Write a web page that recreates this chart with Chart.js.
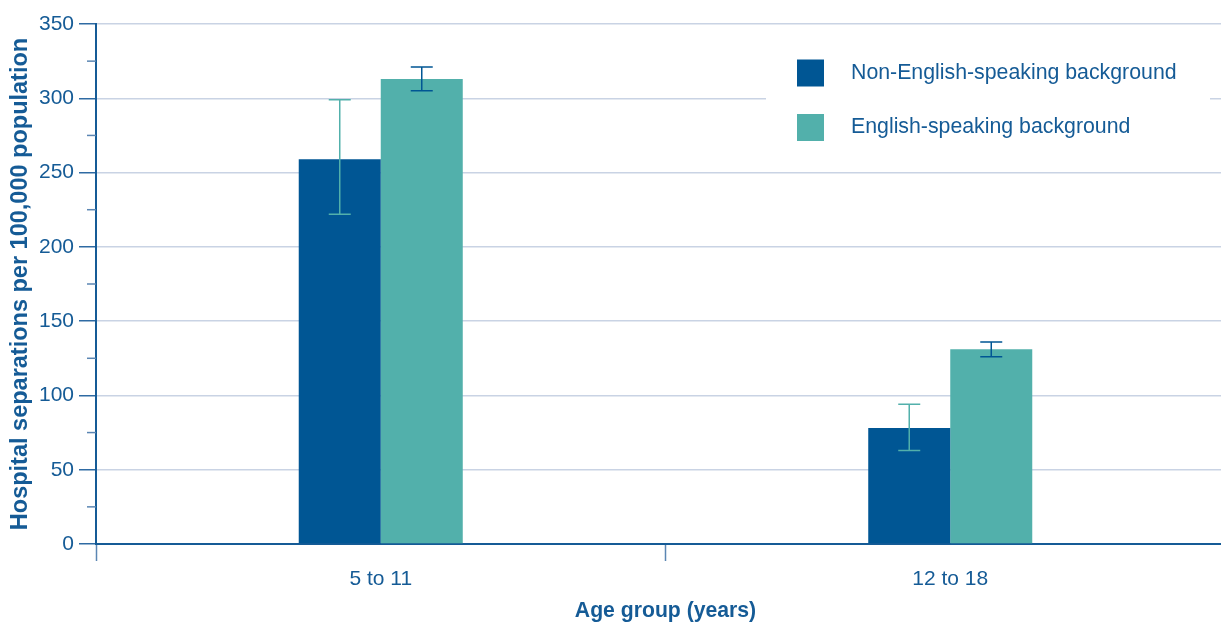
<!DOCTYPE html>
<html lang="en">
<head>
    <meta charset="UTF-8">
    <title>Hospital separations by age group</title>
    <script src="https://cdn.jsdelivr.net/npm/chart.js"></script>
    <style>
        html, body { margin: 0; padding: 0; background: #fff; overflow: hidden; }
        /* the plot runs a little past the right edge of the frame, as in the original */
        #wrap { width: 1221px; height: 624px; overflow: hidden; }
    </style>
</head>
<body>
    <div id="wrap"><canvas id="chart" width="1235" height="624"></canvas></div>

    <script>
        // data
        const ageGroups = ["5 to 11", "12 to 18"];
        const seriesNames = ["Non-English-speaking background", "English-speaking background"];
        const nesbRates = [259, 78];
        const esbRates = [313, 131];
        const nesbLow = [222, 63];
        const nesbHigh = [299, 94];
        const esbLow = [305, 126];
        const esbHigh = [321, 136];
        const yTicks = [0, 50, 100, 150, 200, 250, 300, 350];
        const yMinorTicks = [25, 75, 125, 175, 225, 275, 325];

        const textBlue = "#155b96";
        const darkBlue = "#005694";
        const teal = "#52b0ab";
        const font = "'Liberation Sans', Arial, sans-serif";

        // error bars, drawn in the opposite series colour
        const errorBars = {
            id: "errorBars",
            afterDatasetsDraw(chart) {
                const ctx = chart.ctx;
                const y = chart.scales.y;
                const sets = [[nesbLow, nesbHigh, teal], [esbLow, esbHigh, darkBlue]];
                sets.forEach(function (s, di) {
                    const meta = chart.getDatasetMeta(di);
                    meta.data.forEach(function (bar, i) {
                        const top = y.getPixelForValue(s[1][i]);
                        const bot = y.getPixelForValue(s[0][i]);
                        ctx.save();
                        ctx.strokeStyle = s[2];
                        ctx.lineWidth = 1.5;
                        ctx.beginPath();
                        ctx.moveTo(bar.x, top); ctx.lineTo(bar.x, bot);
                        ctx.moveTo(bar.x - 11, top); ctx.lineTo(bar.x + 11, top);
                        ctx.moveTo(bar.x - 11, bot); ctx.lineTo(bar.x + 11, bot);
                        ctx.stroke();
                        ctx.restore();
                    });
                });
            }
        };

        // minor ticks on the y axis + boxed legend
        const extras = {
            id: "extras",
            afterDraw(chart) {
                const ctx = chart.ctx;
                const y = chart.scales.y;
                const left = chart.chartArea.left;
                ctx.save();
                ctx.strokeStyle = "#5b86b3";
                ctx.lineWidth = 1.5;
                yMinorTicks.forEach(function (v) {
                    const py = y.getPixelForValue(v);
                    ctx.beginPath();
                    ctx.moveTo(left - 9, py); ctx.lineTo(left, py);
                    ctx.stroke();
                });

                // legend
                ctx.fillStyle = "#fff";
                ctx.fillRect(766, 46, 444, 108);
                const colors = [darkBlue, teal];
                ctx.font = "21.3px " + font;
                ctx.textBaseline = "middle";
                seriesNames.forEach(function (name, i) {
                    const cy = 73 + i * 54.5;
                    ctx.fillStyle = colors[i];
                    ctx.fillRect(797, cy - 13.5, 27, 27);
                    ctx.fillStyle = textBlue;
                    ctx.fillText(name, 851, cy);
                });
                ctx.restore();
            }
        };

        new Chart(document.getElementById("chart"), {
            type: "bar",
            data: {
                labels: ageGroups,
                datasets: [
                    { label: seriesNames[0], data: nesbRates, backgroundColor: darkBlue },
                    { label: seriesNames[1], data: esbRates, backgroundColor: teal }
                ]
            },
            options: {
                responsive: false,
                animation: false,
                layout: { padding: { top: 24, right: 0, left: 0, bottom: 0 } },
                datasets: { bar: { barPercentage: 1, categoryPercentage: 0.288 } },
                plugins: { legend: { display: false }, tooltip: { enabled: false } },
                scales: {
                    x: {
                        afterFit: function (s) { s.height = 80; },
                        offset: true,
                        border: { color: textBlue, width: 2 },
                        grid: {
                            offset: true,
                            drawOnChartArea: false,
                            tickLength: 17,
                            tickWidth: 1.5,
                            tickColor: "#5b86b3"
                        },
                        ticks: { color: textBlue, font: { family: font, size: 21 }, padding: 6 },
                        title: {
                            display: true,
                            text: "Age group (years)",
                            color: textBlue,
                            font: { family: font, size: 21.2, weight: "bold" },
                            padding: { top: 8, bottom: 0 }
                        }
                    },
                    y: {
                        min: 0,
                        max: 350,
                        afterFit: function (s) { s.width = 96; },
                        afterBuildTicks: function (s) { s.ticks = yTicks.map(function (v) { return { value: v }; }); },
                        border: { color: textBlue, width: 2 },
                        grid: {
                            color: "#c9d3e4",
                            lineWidth: 1.5,
                            tickLength: 17,
                            tickColor: "#2e6aa3",
                            tickWidth: 1.5
                        },
                        ticks: { color: textBlue, font: { family: font, size: 21 }, padding: 5 },
                        title: {
                            display: true,
                            text: "Hospital separations per 100,000 population",
                            color: textBlue,
                            font: { family: font, size: 23.5, weight: "bold" },
                            padding: { top: 6, bottom: 4 }
                        }
                    }
                }
            },
            plugins: [errorBars, extras]
        });
    </script>
</body>
</html>
